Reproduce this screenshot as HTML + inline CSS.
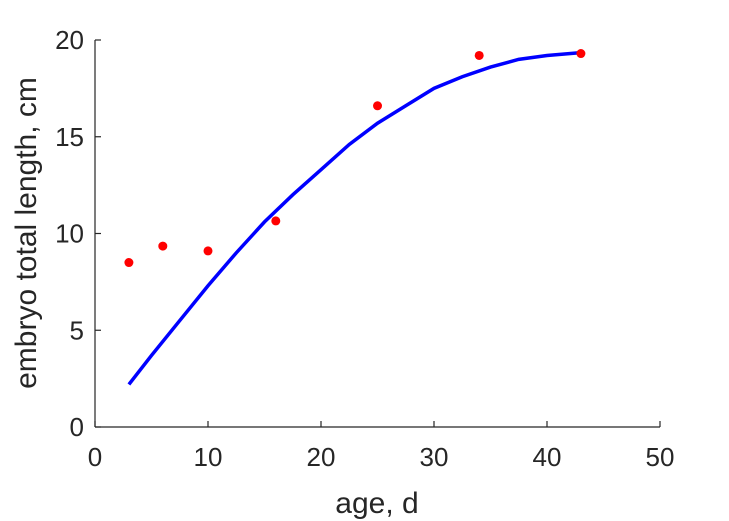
<!DOCTYPE html>
<html><head><meta charset="utf-8"><style>
body{margin:0;background:#fff;}
svg{display:block;font-family:"Liberation Sans",sans-serif;}
</style></head><body>
<svg id="chart" width="729" height="521" viewBox="0 0 729 521" xmlns="http://www.w3.org/2000/svg">
<g id="axes"></g>
<path id="fit" fill="none" stroke="#0000ff" stroke-width="3.5"/>
<g id="pts"></g>
<text x="377" y="513" font-size="30" text-anchor="middle" fill="#262626">age, d</text>
<text transform="translate(36,233) rotate(-90)" font-size="30" text-anchor="middle" fill="#262626">embryo total length, cm</text>
</svg>
<script>
const obsAge=[3,6,10,16,25,34,43];
const obsLen=[8.5,9.35,9.1,10.65,16.6,19.2,19.3];
const fitAge=[3,5,7.5,10,12.5,15,17.5,20,22.5,25,27.5,30,32.5,35,37.5,40,43];
const fitLen=[2.2,3.7,5.5,7.3,9.0,10.6,12.0,13.3,14.6,15.7,16.6,17.5,18.1,18.6,19.0,19.2,19.35];
const xTicks=[0,10,20,30,40,50];
const yTicks=[0,5,10,15,20];
const X=v=>95+v*(660-95)/50;
const Y=v=>427-v*(427-40)/20;
const NS="http://www.w3.org/2000/svg";
const ax=document.getElementById('axes');
function mk(tag,at,parent,txt){const e=document.createElementNS(NS,tag);for(const k in at)e.setAttribute(k,at[k]);if(txt!==undefined)e.textContent=txt;parent.appendChild(e);return e;}
let l=mk('line',{x1:95,y1:427,x2:660,y2:427,stroke:'#262626','stroke-width':1.2},ax);


l=mk('line',{x1:95,y1:40,x2:95,y2:427,stroke:'#262626','stroke-width':1.2},ax);


xTicks.forEach(t=>{
 const tk=mk('line',{x1:X(t),y1:427,x2:X(t),y2:421,stroke:'#262626','stroke-width':1.2},ax);
 
 
 const tx=mk('text',{x:X(t),y:466,'font-size':26,'text-anchor':'middle',fill:'#262626'},ax,String(t));
 
 
});
yTicks.forEach(t=>{
 const tk=mk('line',{x1:95,y1:Y(t),x2:101,y2:Y(t),stroke:'#262626','stroke-width':1.2},ax);
 
 
 const tx=mk('text',{x:84,y:Y(t)+9,'font-size':26,'text-anchor':'end',fill:'#262626'},ax,String(t));
 
 
});
document.getElementById('fit').setAttribute('d',fitAge.map((a,i)=>(i?'L':'M')+X(a)+','+Y(fitLen[i])).join(''));
const pg=document.getElementById('pts');
obsAge.forEach((a,i)=>{
 const c=mk('circle',{cx:X(a),cy:Y(obsLen[i]),r:4.5,fill:'#ff0000'},pg);
 
 
});
</script>
</body></html>
